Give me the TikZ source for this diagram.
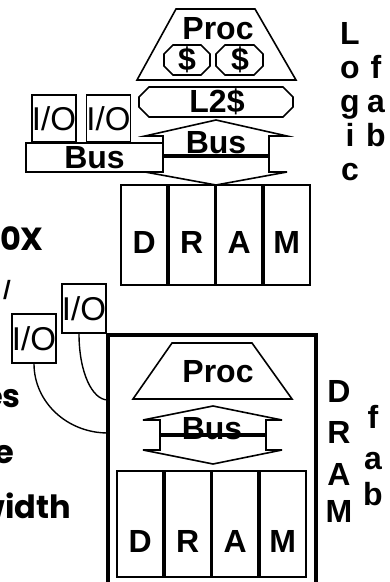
\documentclass[tikz,border=0pt]{standalone}
\usepackage{fontspec}
\setmainfont{Liberation Sans}
\newfontfamily\handfont{Poppins}
\usetikzlibrary{positioning,calc}

% chamfered box, corners cut by #5
\newcommand\octbox[5]{\draw[part] (#1+#5,#2) -- (#3-#5,#2) -- (#3,#2+#5) -- (#3,#4-#5)
  -- (#3-#5,#4) -- (#1+#5,#4) -- (#1,#4-#5) -- (#1,#2+#5) -- cycle;}

\begin{document}
\begin{tikzpicture}[x=1pt,y=-1pt,
    line join=miter,
    part/.style={draw, line width=1.6pt},
    lbl/.style={font=\fontsize{32}{34}\selectfont\bfseries, inner sep=0pt, anchor=base},
    iobox/.style={draw, line width=1.4pt, inner sep=0pt, minimum width=44pt,
      minimum height=47pt, font=\fontsize{33}{35}\selectfont},
    cell/.style={draw, line width=1.6pt, inner sep=0pt, minimum width=46pt},
    wire/.style={line width=1.4pt},
    side/.style={font=\handfont\bfseries\fontsize{32}{34}\selectfont, inner sep=0pt, anchor=base east}
  ]
  \useasboundingbox (0,0) rectangle (389,582);

  % logic chip on top
  \draw[part] (176,9) -- (255,9) -- (296,80) -- (137,80) -- cycle;
  \node[lbl] (proc) at (218,39) {Proc};
  \octbox{164}{45}{210}{75}{9}
  \octbox{216}{45}{263}{75}{9}
  \node[lbl, anchor=center] (cacheA) at (187,60) {\$};
  \node[lbl, anchor=center] (cacheB) at (240,60) {\$};
  \octbox{139}{87}{293}{117}{10}
  \node[lbl, anchor=center] (ltwo) at (217,102) {L2\$};

  % memory bus
  \draw[part] (216,120) -- (287,136) -- (269,136) -- (269,155) -- (163,155) -- (163,136) -- (145,136) -- cycle;
  \draw[part] (163,157) -- (269,157) -- (269,172) -- (287,172) -- (216,185) -- (145,172) -- (163,172) -- cycle;
  \node[lbl] (busA) at (216,153) {Bus};

  % I/O bus
  \node[draw, line width=1.6pt, inner sep=0pt, minimum width=137pt, minimum height=29pt,
    font=\fontsize{32}{34}\selectfont\bfseries] (iobus) at (94.5,157.5) {Bus};
  \node[iobox] (ioA) at (54,118.5) {I/O};
  \node[iobox] (ioB) at (108.5,118.5) {I/O};

  % DRAM chip
  \foreach \l [count=\i from 0] in {D,R,A,M} {
    \node[cell, minimum height=100pt] (dt\i) at (144.25+47.5*\i,235) {};
    \node[lbl] (dl\i) at (144.25+47.5*\i,253) {\l};
  }

  % Logic fab
  \foreach \t/\x/\y in {L/350/44, o/350/78, g/350/112, i/350/146, c/350/180,
      f/376/78, a/376/112, b/376/146}
    \node[lbl] (lg-\t) at (\x,\y) {\t};

  % single chip
  \node[draw, line width=4.5pt, inner sep=0pt, minimum width=208pt, minimum height=270pt] (chip) at (212,470) {};
  \coordinate (tapA) at (108,400);
  \coordinate (tapB) at (108,433);
  \draw[part] (172,343) -- (252,343) -- (292,399) -- (133,399) -- cycle;
  \node[lbl] (procB) at (218,382) {Proc};
  \draw[part] (213,406) -- (282,420) -- (266,420) -- (266,434) -- (160,434) -- (160,420) -- (143,420) -- cycle;
  \draw[part] (160,436) -- (266,436) -- (266,450) -- (282,450) -- (213,464) -- (143,450) -- (160,450) -- cycle;
  \node[lbl] (busB) at (212,439) {Bus};
  \foreach \l [count=\i from 0] in {D,R,A,M} {
    \node[cell, minimum height=106pt] (db\i) at (140.25+47.5*\i,524) {};
    \node[lbl] (dm\i) at (140.25+47.5*\i,552) {\l};
  }

  % I/O on the chip
  \node[iobox, minimum height=49pt] (ioC) at (84,308.5) {I/O};
  \node[iobox, minimum height=49pt] (ioD) at (34,338.5) {I/O};
  \draw[wire] ([xshift=-5pt]ioC.south) .. controls (79,372) and (92,400) .. (tapA);
  \draw[wire] (ioD.south) .. controls (34,402) and (67,433) .. (tapB);

  % DRAM fab
  \foreach \t/\x/\y in {D/339/402, R/339/443, A/339/485, M/339/522,
      f/373/428, a/373/469, b/373/505}
    \node[lbl] (df-\t) at (\x,\y) {\t};

  % cut-off side text
  \node[side] (sA) at (44,250) {0X};
  \node[side, font=\handfont\bfseries\fontsize{17}{18}\selectfont] (sB) at (11,296) {/};
  \node[side] (sC) at (21,407) {es};
  \node[side] (sD) at (14,463) {e};
  \node[side] (sE) at (71,518) {width};
\end{tikzpicture}
\end{document}
